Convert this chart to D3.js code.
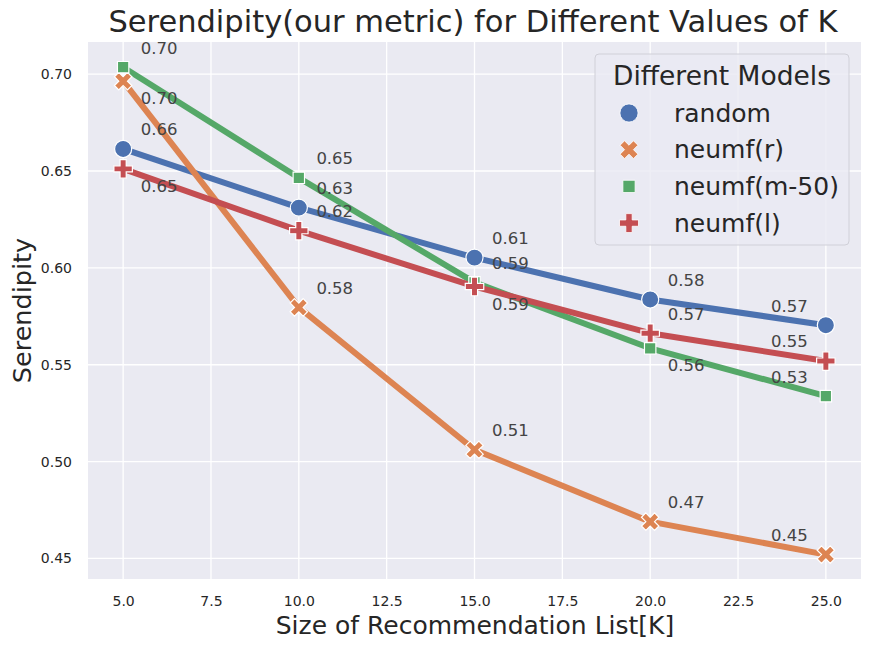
<!DOCTYPE html>
<html>
    <head>
        <meta charset="utf-8" />
        <title>Serendipity</title>
        <script src="https://d3js.org/d3.v7.min.js"></script>
        <style>
            body { margin: 0; background: #fff; }
            text { font-family: "DejaVu Sans", sans-serif; }
        </style>
    </head>
    <body>
    <div id="chart"></div>

    <script>

        // data
        const kValues = [5, 10, 15, 20, 25]
        const models = ["random", "neumf(r)", "neumf(m-50)", "neumf(l)"]
        const randomVals = [0.6614, 0.6311, 0.6053, 0.5837, 0.5704]
        const neumfRVals = [0.6964, 0.5796, 0.5061, 0.4690, 0.4520]
        const neumfM50Vals = [0.7036, 0.6465, 0.5925, 0.5585, 0.5338]
        const neumfLVals = [0.6511, 0.6192, 0.5904, 0.5663, 0.5519]
        const xTicks = [5, 7.5, 10, 12.5, 15, 17.5, 20, 22.5, 25]
        const yTicks = [0.45, 0.50, 0.55, 0.60, 0.65, 0.70]

        const seriesVals = [randomVals, neumfRVals, neumfM50Vals, neumfLVals]
        const colors = ["#4c72b0", "#dd8452", "#55a868", "#c44e52"]

        // which value labels sit under their point
        const labelBelow = {"neumf(r)": [5], "neumf(l)": [5, 15], "neumf(m-50)": [20]}

        const W = 871, H = 648
        const plot = {left: 88, right: 861, top: 42, bottom: 579}

        const svg = d3.select("#chart").append("svg")
                        .attr("width", W)
                        .attr("height", H)

        const x = d3.scaleLinear().domain([4, 26]).range([plot.left, plot.right])
        const y = d3.scaleLinear().domain([0.4394, 0.7166]).range([plot.bottom, plot.top])

        svg.append("rect")
            .attr("x", plot.left).attr("y", plot.top)
            .attr("width", plot.right - plot.left)
            .attr("height", plot.bottom - plot.top)
            .attr("fill", "#eaeaf2")

        // grid
        svg.append("g").selectAll("line").data(xTicks).join("line")
            .attr("x1", d => x(d)).attr("x2", d => x(d))
            .attr("y1", plot.top).attr("y2", plot.bottom)
            .attr("stroke", "#fff").attr("stroke-width", 1.3)
        svg.append("g").selectAll("line").data(yTicks).join("line")
            .attr("y1", d => y(d)).attr("y2", d => y(d))
            .attr("x1", plot.left).attr("x2", plot.right)
            .attr("stroke", "#fff").attr("stroke-width", 1.3)

        // axes (no domain lines, ticks only as labels)
        const xAxis = svg.append("g")
            .attr("transform", `translate(0,${plot.bottom})`)
            .call(d3.axisBottom(x).tickValues(xTicks).tickFormat(d3.format(".1f")).tickSize(0).tickPadding(17))
        const yAxis = svg.append("g")
            .attr("transform", `translate(${plot.left},0)`)
            .call(d3.axisLeft(y).tickValues(yTicks).tickFormat(d3.format(".2f")).tickSize(0).tickPadding(16))
        ;[xAxis, yAxis].forEach(a => {
            a.select(".domain").remove()
            a.selectAll("text").attr("fill", "#262626").style("font-size", "14px")
                .style("font-family", "DejaVu Sans, sans-serif")
        })

        // symbols
        const shapes = [
            d3.symbol().type(d3.symbolCircle).size(230),
            d3.symbol().type(d3.symbolCross).size(190),
            d3.symbol().type(d3.symbolSquare).size(130),
            d3.symbol().type(d3.symbolCross).size(190)
        ]
        const shapeRot = [0, 45, 0, 0]

        const line = d3.line().x(d => x(d.k)).y(d => y(d.v))

        models.forEach((m, i) => {
            const pts = kValues.map((k, j) => ({k: k, v: seriesVals[i][j]}))
            svg.append("path")
                .datum(pts)
                .attr("d", line)
                .attr("fill", "none")
                .attr("stroke", colors[i])
                .attr("stroke-width", 6)
                .attr("stroke-linejoin", "round")
                .attr("stroke-linecap", "round")
        })

        models.forEach((m, i) => {
            const pts = kValues.map((k, j) => ({k: k, v: seriesVals[i][j]}))
            svg.append("g").selectAll("path").data(pts).join("path")
                .attr("d", shapes[i])
                .attr("transform", d => `translate(${x(d.k)},${y(d.v)}) rotate(${shapeRot[i]})`)
                .attr("fill", colors[i])
                .attr("stroke", "#fff")
                .attr("stroke-width", 1.2)
        })

        // value labels
        const fmt = d3.format(".2f")
        models.forEach((m, i) => {
            const below = labelBelow[m] || []
            const pts = kValues.map((k, j) => ({k: k, v: seriesVals[i][j]}))
            svg.append("g").selectAll("text").data(pts).join("text")
                .attr("x", d => d.k === 25 ? x(d.k - 1.56) : x(d.k + 0.5))
                .attr("y", d => below.includes(d.k) ? y(d.v - 0.009) : y(d.v + 0.01))
                .attr("dy", "0.35em")
                .attr("fill", "#444")
                .style("font-size", "16.5px")
                .text(d => fmt(d.v))
        })

        // titles
        svg.append("text")
            .attr("x", 473).attr("y", 32)
            .attr("text-anchor", "middle")
            .attr("fill", "#262626")
            .style("font-size", "30.5px")
            .text("Serendipity(our metric) for Different Values of K")
        svg.append("text")
            .attr("x", 475).attr("y", 634)
            .attr("text-anchor", "middle")
            .attr("fill", "#262626")
            .style("font-size", "25px")
            .text("Size of Recommendation List[K]")
        svg.append("text")
            .attr("transform", `translate(31,${(plot.top + plot.bottom) / 2}) rotate(-90)`)
            .attr("text-anchor", "middle")
            .attr("fill", "#262626")
            .style("font-size", "25.5px")
            .text("Serendipity")

        // legend
        const lg = svg.append("g").attr("transform", "translate(595,54)")
        lg.append("rect")
            .attr("width", 254).attr("height", 191).attr("rx", 4)
            .attr("fill", "#eaeaf2").attr("fill-opacity", 0.8)
            .attr("stroke", "#d0d0d8").attr("stroke-width", 1)
        lg.append("text")
            .attr("x", 127).attr("y", 22).attr("dy", "0.35em")
            .attr("text-anchor", "middle")
            .attr("fill", "#262626")
            .style("font-size", "26.5px")
            .text("Different Models")
        const legendShapes = [
            d3.symbol().type(d3.symbolCircle).size(260),
            d3.symbol().type(d3.symbolCross).size(200),
            d3.symbol().type(d3.symbolSquare).size(150),
            d3.symbol().type(d3.symbolCross).size(200)
        ]
        models.forEach((m, i) => {
            const row = lg.append("g").attr("transform", `translate(0,${59 + i * 36.7})`)
            row.append("path")
                .attr("d", legendShapes[i])
                .attr("transform", `translate(34,0) rotate(${shapeRot[i]})`)
                .attr("fill", colors[i])
                .attr("stroke", "#fff").attr("stroke-width", 0.8)
            row.append("text")
                .attr("x", 79).attr("dy", "0.35em")
                .attr("fill", "#262626")
                .style("font-size", "25px")
                .text(m)
        })

    </script>
    </body>
</html>
